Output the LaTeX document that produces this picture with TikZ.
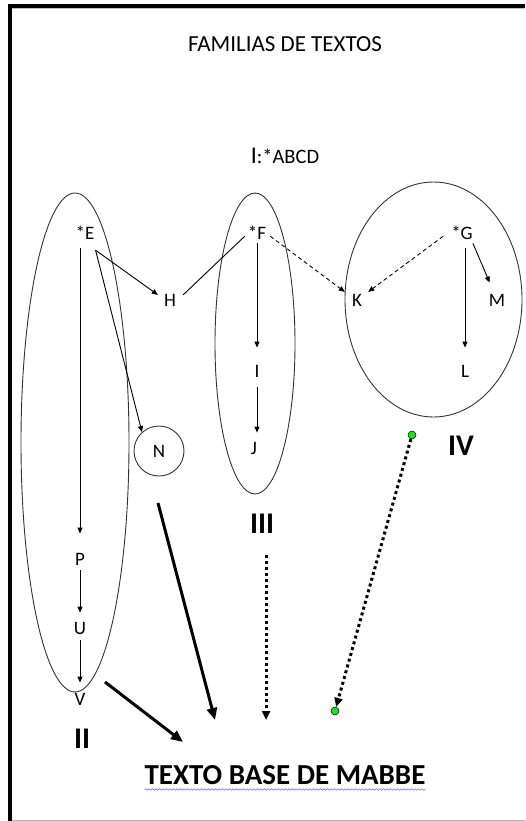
\documentclass[tikz,border=0pt]{standalone}
\usepackage{fontspec}
\setmainfont{Carlito}
\usetikzlibrary{arrows.meta,shapes.geometric,decorations.pathmorphing}
\definecolor{dotgreen}{HTML}{1EE01E}
\definecolor{wavyblue}{HTML}{5060F0}
\begin{document}
\begin{tikzpicture}[x=1pt,y=-1pt,
  lett/.style={inner sep=1pt, anchor=base, font=\fontsize{19}{19}\selectfont},
  roman/.style={inner sep=0pt, anchor=base, font=\fontsize{30}{30}\selectfont\bfseries},
  fam/.style={draw=black!80, line width=0.9pt, ellipse, inner sep=0pt},
  arr/.style={line width=0.9pt, -{Triangle[length=6pt,width=5pt]}},
  plainline/.style={line width=0.9pt},
  dasharr/.style={arr, dash pattern=on 4pt off 3pt},
  bigarr/.style={line width=3pt, -{Triangle[length=12pt,width=10pt]}},
  dotarr/.style={line width=3pt, dash pattern=on 3pt off 3pt, -{Triangle[length=9pt,width=8pt]}},
  gdot/.style={circle, fill=dotgreen, draw=black, line width=0.5pt, inner sep=0pt, minimum size=8pt}
]
\useasboundingbox (0,0) rectangle (525,821);
% frame
\fill[black] (8,4) rectangle (12,821);
\fill[black] (8,4) rectangle (525,8);
\draw[gray!50, line width=0.6pt] (12,8.6) -- (525,8.6);
\draw[gray!60, line width=1pt] (12,820) -- (525,820);

% titles
\node[anchor=base, inner sep=0pt, font=\fontsize{23}{23}\selectfont] (title) at (285,52) {FAMILIAS DE TEXTOS};
\node[anchor=base, inner sep=0pt] (famI) at (285,164) {{\fontsize{24}{24}\selectfont I}{\fontsize{20.5}{20.5}\selectfont :*ABCD}};

% family shapes
\node[fam, minimum width=108pt, minimum height=499pt] (famII) at (75,442.5) {};
\node[fam, minimum width=80pt, minimum height=301pt] (famIII) at (255,343.5) {};
\node[fam, minimum width=177pt, minimum height=235pt] (famIV) at (433.5,299.5) {};

% letters
\node[lett] (E) at (85,239) {*E};
\node[lett] (F) at (257,239) {*F};
\node[lett] (G) at (462,239) {*G};
\node[lett] (H) at (170,306) {H};
\node[lett] (K) at (357,306) {K};
\node[lett] (M) at (497,306) {M};
\node[lett] (I) at (257,377) {I};
\node[lett] (L) at (465,377) {L};
\node[lett] (J) at (254,454) {J};
\node[lett] (P) at (80,565) {P};
\node[lett] (U) at (80,634) {U};
\node[lett] (V) at (80,705) {V};
\node[circle, draw=black!80, line width=0.9pt, minimum size=50pt, inner sep=0pt, font=\fontsize{19}{19}\selectfont] (N) at (159,451) {N};

% roman numerals
\node[roman] (IV) at (461,455) {IV};
\node[roman] (III) at (262,533) {III};
\node[roman] (II) at (82,748) {II};

% base text
\node[anchor=base, inner sep=0pt, font=\fontsize{29}{29}\selectfont\bfseries] (base) at (285,784) {TEXTO BASE DE MABBE};
\draw[wavyblue, line width=0.5pt, decorate, decoration={snake, segment length=3.5pt, amplitude=0.8pt}]
  ([shift={(0,5.5)}]base.base west) -- ([shift={(0,5.5)}]base.base east);

% connectors family II
\draw[arr, shorten <=8pt, shorten >=18pt] (P |- E.south) -- (P.north);
\draw[arr, shorten <=4pt, shorten >=8pt] (P.south) -- (U.north);
\draw[arr, shorten <=5pt, shorten >=9pt] (U.south) -- (V.north);
\draw[arr] ([shift={(0,10)}]E.south east) -- ([shift={(-5,-5)}]H.west);
\draw[arr] ([shift={(0,10)}]E.south east) -- (N.132);
\draw[plainline] ([shift={(6,-5)}]H.east) -- ([shift={(-2,4)}]F.west);

% family III
\draw[arr, shorten <=3pt, shorten >=16pt] (I |- F.south) -- (I.north);
\draw[arr, shorten <=9pt, shorten >=8pt] (I.south) -- (I.south |- J.north);
\draw[dasharr] ([shift={(3,4)}]F.east) -- ([shift={(-6,-8)}]K.west);

% family IV
\draw[dasharr] ([shift={(-7,4)}]G.west) -- ([shift={(5,-8)}]K.east);
\draw[arr] ([shift={(-1,3)}]G.south east) -- ([shift={(2,-10)}]M.north west);
\draw[arr, shorten <=8pt, shorten >=16pt] (L |- G.south) -- (L.north);

% arrows to base text
\coordinate (s1) at (105,682);
\coordinate (t1) at (183,742);
\coordinate (s2) at (158,503);
\coordinate (t2) at (215,720);
\coordinate (s3) at (266,555);
\coordinate (t3) at (266,720);
\draw[bigarr] (s1) -- (t1);
\draw[bigarr] (s2) -- (t2);
\draw[dotarr] (s3) -- (t3);
\node[gdot] (gtop) at (412,435) {};
\node[gdot] (gbot) at (335,711) {};
\draw[dotarr] (gtop) -- (gbot);
\end{tikzpicture}
\end{document}
